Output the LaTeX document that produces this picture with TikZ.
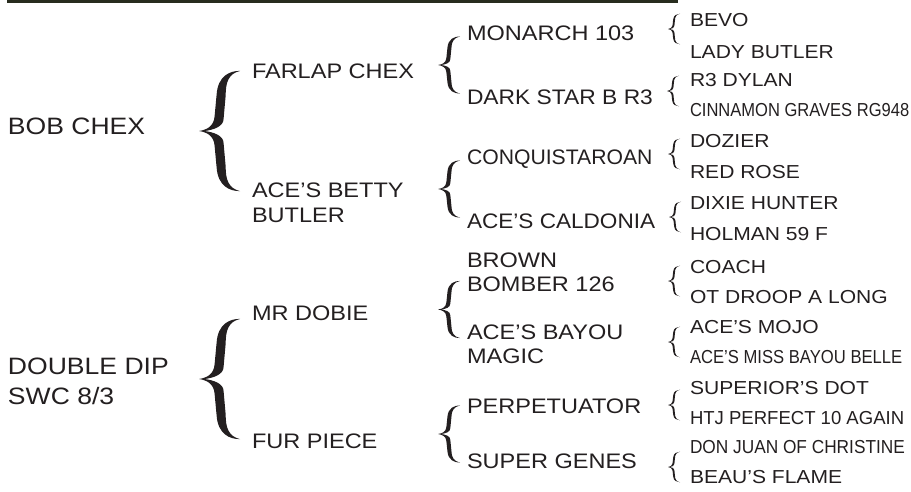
\documentclass[tikz,border=0pt]{standalone}
\usepackage{fontspec}
\usepackage{graphicx}
\setmainfont{Liberation Sans}[FakeStretch=1.12]
\definecolor{barcol}{RGB}{40,44,30}
\definecolor{inkcol}{RGB}{35,31,32}
% curly brace drawn as a filled shape: left x, centre y, width, height, stem thickness (share of width)
\newcommand{\curly}[5]{%
  \fill[inkcol, shift={(#1,#2)}, xscale=#3, yscale=#4/2]
    (1,-0.985) .. controls (0.75,-0.99) and (0.46,-0.9) .. (0.43,-0.6)
    -- (0.38,-0.24) .. controls (0.36,-0.08) and (0.2,-0.02) .. (0,0)
    .. controls (0.2,0.02) and (0.36,0.08) .. (0.38,0.24)
    -- (0.43,0.6) .. controls (0.46,0.9) and (0.75,0.99) .. (1,0.985)
    .. controls (0.72,0.94) and ({0.43+#5},0.8) .. ({0.43+#5},0.58)
    -- ({0.38+#5},0.2) .. controls ({0.38+#5},0.07) and (0.35,0.02) .. (0.14,0)
    .. controls (0.35,-0.02) and ({0.38+#5},-0.07) .. ({0.38+#5},-0.2)
    -- ({0.43+#5},-0.58) .. controls ({0.43+#5},-0.8) and (0.72,-0.94) .. (1,-0.985)
    -- cycle;}
\tikzset{
  txt/.style={inner sep=0pt, outer sep=0pt, text=inkcol},
  lvzero/.style={txt, anchor=west, text height=17pt, text depth=0pt, font=\fontsize{23.7pt}{30pt}\selectfont},
  lvzeroml/.style={txt, anchor=north west, align=left, font=\fontsize{23.7pt}{30pt}\selectfont},
  lvone/.style={txt, anchor=west, text height=15pt, text depth=0pt, font=\fontsize{21pt}{25pt}\selectfont},
  lvoneml/.style={txt, anchor=north west, align=left, font=\fontsize{21pt}{25pt}\selectfont},
  lvtwoml/.style={txt, anchor=north west, align=left, font=\fontsize{21pt}{24pt}\selectfont},
  lvthree/.style={txt, anchor=west, text height=13.5pt, text depth=0pt, font=\fontsize{18.8pt}{22pt}\selectfont},
}
\begin{document}
\begin{tikzpicture}[x=1pt,y=-1pt]
\useasboundingbox (0,0) rectangle (911,491);
\fill[barcol] (7,0) rectangle (678,3);

% level 0
\node[lvzero] (bob) at (8,125.5) {BOB CHEX};
\node[lvzeroml] (dd) at (8,358) {DOUBLE DIP\\SWC 8/3};

% big braces
\curly{199}{131}{41}{122}{0.22}
\curly{199}{379}{41}{122}{0.22}

% level 1
\node[lvone] (farlap) at (252,70.5) {FARLAP CHEX};
\node[lvoneml] (betty) at (252,183) {ACE’S BETTY\\BUTLER};
\node[lvone] (dobie) at (252,313) {MR DOBIE};
\node[lvone] (fur) at (252,441) {FUR PIECE};

% mid braces
\curly{438}{65}{22}{58}{0.18}
\curly{438}{189}{22}{58}{0.18}
\curly{438}{309.5}{22}{58}{0.18}
\curly{438}{434}{22}{58}{0.18}

% level 2
\node[lvone] (monarch) at (467,33) {MONARCH 103};
\node[lvone] (dark) at (467,97) {\scalebox{0.97}[1]{DARK STAR B R3}};
\node[lvone] (conq) at (467,157) {\scalebox{0.9}[1]{CONQUISTAROAN}};
\node[lvone] (cald) at (467,221) {\scalebox{0.96}[1]{ACE’S CALDONIA}};
\node[lvtwoml] (brown) at (467,253) {BROWN\\BOMBER 126};
\node[lvtwoml] (bayou) at (467,325) {ACE’S BAYOU\\MAGIC};
\node[lvone] (perp) at (467,406) {PERPETUATOR};
\node[lvone] (genes) at (467,461) {SUPER GENES};

% small braces
\curly{668}{29}{12}{31}{0.15}
\curly{667}{91}{12}{31}{0.15}
\curly{668}{154}{12}{31}{0.15}
\curly{669}{217}{12}{31}{0.15}
\curly{668}{281}{12}{31}{0.15}
\curly{668}{342}{12}{31}{0.15}
\curly{668}{405}{12}{31}{0.15}
\curly{668}{467}{12}{31}{0.15}

% level 3
\node[lvthree] (r1) at (690,20) {BEVO};
\node[lvthree] (r2) at (690,52) {LADY BUTLER};
\node[lvthree] (r3) at (690,80) {R3 DYLAN};
\node[lvthree] (r4) at (690,110) {\scalebox{0.785}[1]{CINNAMON GRAVES RG948}};
\node[lvthree] (r5) at (690,141) {DOZIER};
\node[lvthree] (r6) at (690,172) {RED ROSE};
\node[lvthree] (r7) at (690,203) {DIXIE HUNTER};
\node[lvthree] (r8) at (690,234) {HOLMAN 59 F};
\node[lvthree] (r9) at (690,267) {COACH};
\node[lvthree] (r10) at (690,297) {OT DROOP A LONG};
\node[lvthree] (r11) at (690,327) {ACE’S MOJO};
\node[lvthree] (r12) at (690,357) {\scalebox{0.79}[1]{ACE’S MISS BAYOU BELLE}};
\node[lvthree] (r13) at (690,388) {SUPERIOR’S DOT};
\node[lvthree] (r14) at (690,418) {\scalebox{0.88}[1]{HTJ PERFECT 10 AGAIN}};
\node[lvthree] (r15) at (690,447) {\scalebox{0.82}[1]{DON JUAN OF CHRISTINE}};
\node[lvthree] (r16) at (690,477) {BEAU’S FLAME};
\end{tikzpicture}
\end{document}
